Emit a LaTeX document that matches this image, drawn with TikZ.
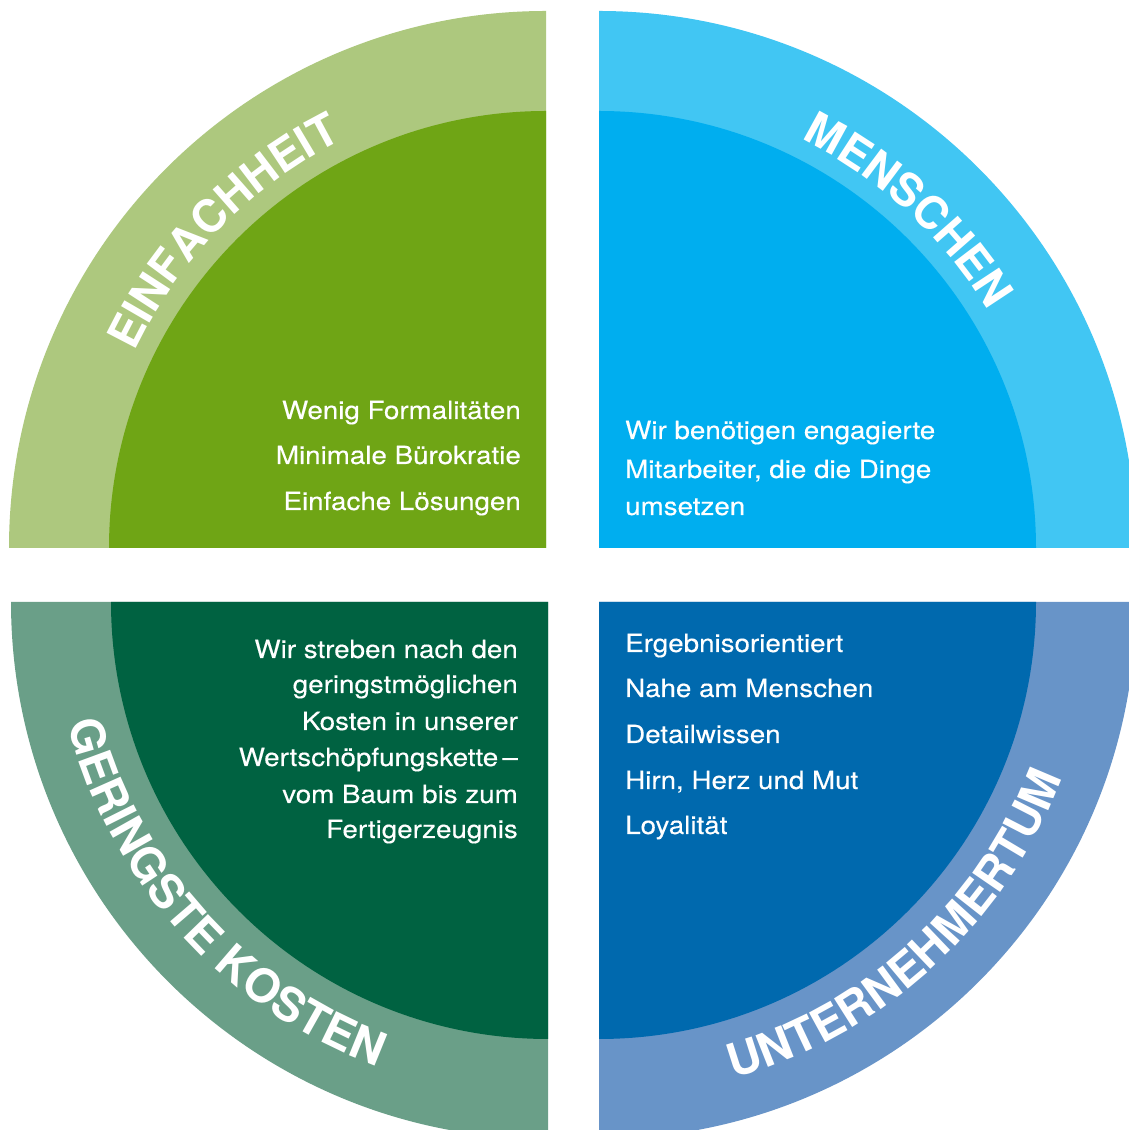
\documentclass[tikz,border=0pt]{standalone}
\usepackage{fontspec}
\setmainfont{TeX Gyre Heros}
\newfontfamily\bodyfam[FakeStretch=1.11,FakeBold=0.3]{TeX Gyre Heros}
\newfontfamily\headfam{TeX Gyre Heros}
\usetikzlibrary{decorations.text}
\definecolor{tlout}{HTML}{ADC87E}
\definecolor{tlin}{HTML}{6FA515}
\definecolor{trout}{HTML}{41C6F3}
\definecolor{trin}{HTML}{00AEEF}
\definecolor{blout}{HTML}{6A9F88}
\definecolor{blin}{HTML}{006241}
\definecolor{brout}{HTML}{6894C8}
\definecolor{brin}{HTML}{0069AE}
\newcommand\lblfmt{\headfam\bfseries\fontsize{45}{45}\selectfont\color{white}}
\newcommand\lblfmtb{\headfam\bfseries\fontsize{46.5}{46.5}\selectfont\color{white}}
\tikzset{
  body/.style={font=\bodyfam\fontsize{25}{25}\selectfont, text=white, inner sep=0pt},
  rline/.style={body, anchor=base east},
  lline/.style={body, anchor=base west},
  ringlabel/.style={decorate, decoration={text along path, text align=center, text={|\lblfmt|#1}}},
  ringlabelb/.style={decorate, decoration={text along path, text align=center, text={|\lblfmtb|#1}}}
}
\begin{document}
\begin{tikzpicture}[x=1pt,y=1pt]
\useasboundingbox (0,0) rectangle (1129,1130);
\fill[white] (0,0) rectangle (1129,1130);
\clip (0,0) rectangle (1129,1130);
\coordinate (ctl) at (546,582);
\coordinate (ctr) at (599,582);
\coordinate (cbl) at (548,528);
\coordinate (cbr) at (599,528);
% sectors
\fill[tlout] (ctl) -- ++(180:537) arc[start angle=180, end angle=90, radius=537] -- cycle;
\fill[tlin]  (ctl) -- ++(180:437) arc[start angle=180, end angle=90, radius=437] -- cycle;
\fill[trout] (ctr) -- ++(90:537) arc[start angle=90, end angle=0, radius=537] -- cycle;
\fill[trin]  (ctr) -- ++(90:437) arc[start angle=90, end angle=0, radius=437] -- cycle;
\fill[blout] (cbl) -- ++(180:537) arc[start angle=180, end angle=270, radius=537] -- cycle;
\fill[blin]  (cbl) -- ++(180:437) arc[start angle=180, end angle=270, radius=437] -- cycle;
\fill[brout] (cbr) -- ++(270:537) arc[start angle=270, end angle=360, radius=537] -- cycle;
\fill[brin]  (cbr) -- ++(270:437) arc[start angle=270, end angle=360, radius=437] -- cycle;
% ring labels
\path[ringlabel=EINFACHHEIT] ([shift={(175.5:456)}]ctl) arc[start angle=175.5, end angle=95.5, radius=456];
\path[ringlabel=MENSCHEN] ([shift={(87.5:456)}]ctr) arc[start angle=87.5, end angle=7.5, radius=456];
\path[ringlabelb=GERINGSTE KOSTEN] ([shift={(177:495)}]cbl) arc[start angle=177, end angle=267, radius=495];
\path[ringlabelb=UNTERNEHMERTUM] ([shift={(267.5:495)}]cbr) arc[start angle=267.5, end angle=357.5, radius=495];
% top-left text
\node[rline] (tl1) at (521,711) {Wenig Formalitäten};
\node[rline] (tl2) at (521,666) {Minimale Bürokratie};
\node[rline] (tl3) at (521,620) {Einfache Lösungen};
% top-right text
\node[lline] (tr1) at (625,691) {Wir benötigen engagierte};
\node[lline] (tr2) at (625,652) {Mitarbeiter, die die Dinge};
\node[lline] (tr3) at (625,615) {umsetzen};
% bottom-left text
\node[rline] (bl1) at (518,472) {Wir streben nach den};
\node[rline] (bl2) at (518,437) {geringstmöglichen};
\node[rline] (bl3) at (518,400) {Kosten in unserer};
\node[rline] (bl4) at (518,364) {Wertschöpfungskette\,–};
\node[rline] (bl5) at (518,327) {vom Baum bis zum};
\node[rline] (bl6) at (518,292) {Fertigerzeugnis};
% bottom-right text
\node[lline] (br1) at (625,478) {Ergebnisorientiert};
\node[lline] (br2) at (625,433) {Nahe am Menschen};
\node[lline] (br3) at (625,387) {Detailwissen};
\node[lline] (br4) at (625,341) {Hirn, Herz und Mut};
\node[lline] (br5) at (625,296) {Loyalität};
\end{tikzpicture}
\end{document}
